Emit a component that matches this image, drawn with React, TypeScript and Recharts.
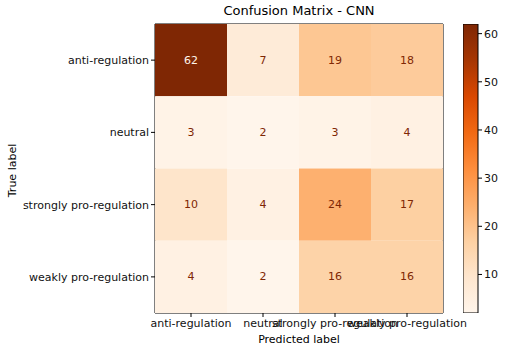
import { ScatterChart, Scatter, XAxis, YAxis, ReferenceArea, BarChart, Bar } from 'recharts';

const labels = ['anti-regulation', 'neutral', 'strongly pro-regulation', 'weakly pro-regulation'];
// rows = true label, columns = predicted label
const row0 = [62, 7, 19, 18];
const row1 = [3, 2, 3, 4];
const row2 = [10, 4, 24, 17];
const row3 = [4, 2, 16, 16];
const matrix = [row0, row1, row2, row3];
const colorbarTicks = [10, 20, 30, 40, 50, 60];

const W = 508;
const H = 356;
const M = { top: 24, right: 65, bottom: 13, left: 0 };
const Y_AXIS_W = 155;
const X_AXIS_H = 30;
const FONT = 'DejaVu Sans, sans-serif';
const FS = 11;

// matplotlib "Oranges"
const oranges = ['#fff5eb', '#fee6ce', '#fdd0a2', '#fdae6b', '#fd8d3c', '#f16913', '#d94801', '#a63603', '#7f2704'];

const all = matrix.flat();
const vmin = Math.min(...all);
const vmax = Math.max(...all);

function hex(c: string) {
  return [1, 3, 5].map(i => parseInt(c.slice(i, i + 2), 16));
}

function cmap(t: number) {
  const x = Math.max(0, Math.min(1, t)) * (oranges.length - 1);
  const i = Math.min(Math.floor(x), oranges.length - 2);
  const f = x - i;
  const a = hex(oranges[i]);
  const b = hex(oranges[i + 1]);
  const c = a.map((v, k) => Math.round(v + (b[k] - v) * f));
  return `rgb(${c[0]},${c[1]},${c[2]})`;
}

const cells = matrix.flatMap((row, r) => row.map((v, c) => ({ x: c, y: r, value: v })));

const plotW = W - M.left - M.right - Y_AXIS_W;
const plotH = H - M.top - M.bottom - X_AXIS_H;
const cellW = plotW / labels.length;
const cellH = plotH / labels.length;

const CellShape = (props: any) => {
  const { cx, cy, payload } = props;
  const v = payload.value;
  const t = (v - vmin) / (vmax - vmin);
  const textColor = v > (vmin + vmax) / 2 ? cmap(0) : cmap(1);
  return (
    <g>
      <rect x={cx - cellW / 2} y={cy - cellH / 2} width={cellW} height={cellH} fill={cmap(t)} />
      <text x={cx} y={cy} textAnchor="middle" dominantBaseline="central" fontSize={FS} fontFamily={FONT} fill={textColor}>
        {v}
      </text>
    </g>
  );
};

const YLabel = (props: any) => {
  const { viewBox } = props;
  const x = 12;
  const y = viewBox.y + viewBox.height / 2 + 2;
  return (
    <text x={x} y={y} transform={`rotate(-90, ${x}, ${y})`} textAnchor="middle" dominantBaseline="central" fontSize={FS} fontFamily={FONT} fill="#000">
      True label
    </text>
  );
};

const colorbarData = [{ name: 'cb', range: [vmin, vmax] }];

export default function App() {
  const tickStyle = { fill: '#111', fontSize: FS, fontFamily: FONT };
  return (
    <div style={{ position: 'absolute', left: 0, top: 0, width: W, height: H, background: '#fff', fontFamily: FONT }}>
      <div style={{ position: 'absolute', left: M.left + Y_AXIS_W, width: plotW, top: 3, textAlign: 'center', fontSize: 13, color: '#000' }}>
        Confusion Matrix - CNN
      </div>
      <div style={{ position: 'absolute', left: 0, top: 0 }}>
        <ScatterChart width={W} height={H} margin={M}>
          <XAxis
            type="number"
            dataKey="x"
            domain={[-0.5, 3.5]}
            ticks={[0, 1, 2, 3]}
            interval={0}
            tickFormatter={(v: number) => labels[v]}
            tick={tickStyle}
            tickSize={4}
            tickLine={{ stroke: '#000' }}
            axisLine={false}
            height={X_AXIS_H}
            allowDataOverflow
            label={{ value: 'Predicted label', position: 'insideBottom', offset: 0, style: { fill: '#000', fontSize: FS, fontFamily: FONT } }}
          />
          <YAxis
            type="number"
            dataKey="y"
            domain={[-0.5, 3.5]}
            ticks={[0, 1, 2, 3]}
            interval={0}
            reversed
            tickFormatter={(v: number) => labels[v]}
            tick={tickStyle}
            tickSize={4}
            tickLine={{ stroke: '#000' }}
            axisLine={false}
            width={Y_AXIS_W}
            allowDataOverflow
            label={<YLabel />}
          />
          <Scatter data={cells} shape={CellShape} isAnimationActive={false} />
          <ReferenceArea x1={-0.5} x2={3.5} y1={-0.5} y2={3.5} fill="none" stroke="#000" strokeWidth={1} ifOverflow="visible" />
        </ScatterChart>
      </div>
      <div style={{ position: 'absolute', left: 463, top: 0 }}>
        <BarChart width={45} height={H} data={colorbarData} margin={{ top: M.top, right: 0, bottom: M.bottom + X_AXIS_H, left: 0 }} barCategoryGap={0}>
          <defs>
            <linearGradient id="cbGrad" x1="0" y1="1" x2="0" y2="0">
              {oranges.map((c, i) => (
                <stop key={i} offset={`${(i / (oranges.length - 1)) * 100}%`} stopColor={c} />
              ))}
            </linearGradient>
          </defs>
          <XAxis dataKey="name" hide />
          <YAxis
            orientation="right"
            type="number"
            domain={[vmin, vmax]}
            ticks={colorbarTicks}
            width={30}
            tick={tickStyle}
            tickSize={4}
            tickLine={{ stroke: '#000' }}
            axisLine={false}
            allowDataOverflow
          />
          <Bar dataKey="range" fill="url(#cbGrad)" stroke="#000" strokeWidth={1} isAnimationActive={false} />
        </BarChart>
      </div>
    </div>
  );
}
